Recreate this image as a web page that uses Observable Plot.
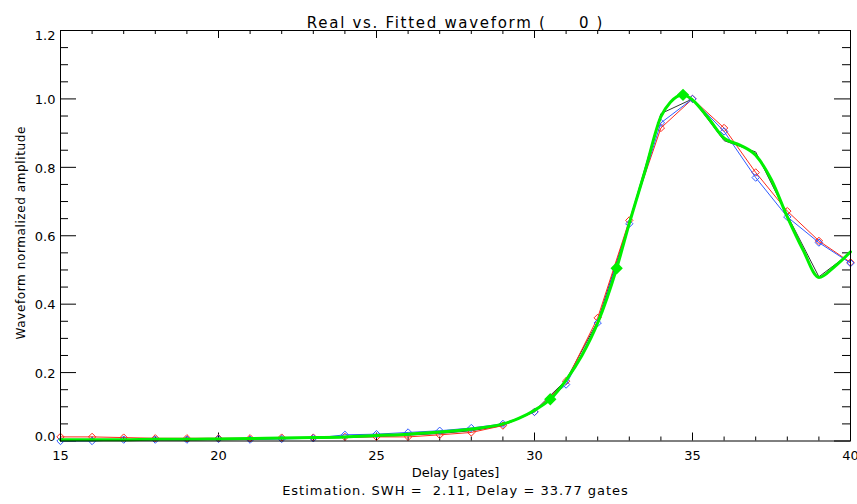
<!DOCTYPE html>
<html>
<head>
<meta charset="utf-8">
<script src="https://cdn.jsdelivr.net/npm/d3@7"></script>
<script src="https://cdn.jsdelivr.net/npm/@observablehq/plot@0.6"></script>
<style>
  html, body { margin: 0; padding: 0; background: #fff; }
</style>
</head>
<body>
<div id="chart"></div>
<script>
// ---- data ----
const gates = [15,16,17,18,19,20,21,22,23,24,25,26,27,28,29,30,31,32,33,34,35,36,37,38,39,40];
const redVals = [0.012,0.012,0.010,0.008,0.008,0.008,0.008,0.010,0.010,0.012,0.012,0.012,0.018,0.025,0.045,0.085,0.175,0.360,0.645,0.915,1.000,0.915,0.785,0.672,0.585,0.522];
const blueVals = [0.000,0.000,0.004,0.004,0.004,0.006,0.004,0.006,0.008,0.018,0.020,0.025,0.030,0.038,0.050,0.085,0.165,0.345,0.635,0.930,1.000,0.905,0.770,0.655,0.580,0.520];
const blackVals = [0.002,0.002,0.003,0.004,0.005,0.006,0.006,0.007,0.008,0.010,0.013,0.017,0.022,0.030,0.045,0.088,0.178,0.350,0.640,0.957,1.000,0.878,0.845,0.660,0.480,0.550];
const fitGates = [15,16,17,18,19,20,21,22,23,24,25,26,27,28,29,29.5,30,30.5,31,31.5,32,32.6,33,33.5,34,34.3,34.7,35,35.5,36,36.5,37,37.5,38,38.5,39,39.5,40];
const fitVals = [0.004,0.004,0.004,0.005,0.005,0.006,0.007,0.009,0.010,0.012,0.016,0.020,0.026,0.035,0.050,0.066,0.090,0.122,0.178,0.250,0.345,0.505,0.636,0.790,0.948,0.990,1.012,0.997,0.944,0.885,0.865,0.835,0.763,0.655,0.558,0.478,0.510,0.553];
const fitMarkGates = [30.5, 32.6, 34.7];
const fitMarkVals = [0.122, 0.505, 1.012];
const xMajor = [15,20,25,30,35,40];
const xMinor = d3.range(15, 41, 1);
const yMajor = [0,0.2,0.4,0.6,0.8,1.0,1.2];
const yMinor = d3.range(0, 1.2001, 0.05);
const titleText = "Real vs. Fitted waveform (\u00a0\u00a0\u00a0\u00a0\u00a00 )";
const xLabelText = "Delay [gates]";
const yLabelText = "Waveform normalized amplitude";
const captionText = "Estimation. SWH =\u00a0\u00a02.11, Delay = 33.77 gates";

// ---- tables ----
const red = gates.map((g, i) => ({g, v: redVals[i]}));
const blue = gates.map((g, i) => ({g, v: blueVals[i]}));
const black = gates.map((g, i) => ({g, v: blackVals[i]}));
const fit = fitGates.map((g, i) => ({g, v: fitVals[i]}));
const fitMarks = fitMarkGates.map((g, i) => ({g, v: fitMarkVals[i]}));

// ---- layout ----
const W = 857, H = 504;
const mL = 60, mR = 7, mT = 30, mB = 63.5;
const xSpan = 25, ySpan = 1.2;
const pxX = xSpan / (W - mL - mR);   // data units per px (x)
const pxY = ySpan / (H - mT - mB);   // data units per px (y)
const xMajLen = 8, xMinLen = 4, yMajLen = 16, yMinLen = 8;
const isXMajor = d => xMajor.includes(d);
const isYMajor = d => yMajor.some(m => Math.abs(m - d) < 1e-6);
const fmt = d => d.toFixed(1);

const font = "'DejaVu Sans', sans-serif";

const chart = Plot.plot({
  width: W, height: H,
  marginLeft: mL, marginRight: mR, marginTop: mT, marginBottom: mB,
  style: {fontFamily: font, fontSize: "13px", background: "white", color: "black"},
  x: {domain: [15, 40], ticks: xMajor, tickSize: 0, tickPadding: 10, tickFormat: d => String(d), label: null},
  y: {domain: [0, 1.2], axis: null},
  marks: [
    // inward ticks: bottom & top
    Plot.ruleX(xMinor, {x: d => d, y1: 0, y2: d => (isXMajor(d) ? xMajLen : xMinLen) * pxY, stroke: "black", strokeWidth: 1}),
    Plot.ruleX(xMinor, {x: d => d, y1: 1.2, y2: d => 1.2 - (isXMajor(d) ? xMajLen : xMinLen) * pxY, stroke: "black", strokeWidth: 1}),
    // inward ticks: left & right
    Plot.ruleY(yMinor, {y: d => d, x1: 15, x2: d => 15 + (isYMajor(d) ? yMajLen : yMinLen) * pxX, stroke: "black", strokeWidth: 1}),
    Plot.ruleY(yMinor, {y: d => d, x1: 40, x2: d => 40 - (isYMajor(d) ? yMajLen : yMinLen) * pxX, stroke: "black", strokeWidth: 1}),
    // y tick labels (ends nudged inside as in the reference)
    Plot.text(yMajor.filter(d => d > 0 && d < 1.2), {x: 15, y: d => d, text: fmt, textAnchor: "end", dx: -5, dy: 1, fill: "black", fontSize: 13}),
    Plot.text([1.2], {x: 15, y: d => d, text: fmt, textAnchor: "end", dx: -5, dy: 5, fill: "black", fontSize: 13}),
    Plot.text([0], {x: 15, y: d => d, text: fmt, textAnchor: "end", dx: -5, dy: -4, fill: "black", fontSize: 13}),
    // series
    Plot.line(black, {x: "g", y: "v", stroke: "#333333", strokeWidth: 1}),
    Plot.line(red, {x: "g", y: "v", stroke: "#ff2a1a", strokeWidth: 1}),
    Plot.dot(red, {x: "g", y: "v", symbol: "diamond2", r: 3.3, stroke: "#ff2a1a", fill: "none", strokeWidth: 1}),
    Plot.line(blue, {x: "g", y: "v", stroke: "#2f5bff", strokeWidth: 1}),
    Plot.dot(blue, {x: "g", y: "v", symbol: "diamond2", r: 3.3, stroke: "#2f5bff", fill: "none", strokeWidth: 1}),
    Plot.line(fit, {x: "g", y: "v", stroke: "#00f000", strokeWidth: 3, curve: "monotone-x"}),
    Plot.dot(fitMarks, {x: "g", y: "v", symbol: "diamond2", r: 4.6, fill: "#00f000", stroke: "#00f000"}),
    Plot.frame({stroke: "black", strokeWidth: 1}),
    // texts
    Plot.text([titleText], {frameAnchor: "top", dy: -13, fontSize: 15, fill: "black", style: "letter-spacing:1.7px"}),
    Plot.text([xLabelText], {frameAnchor: "bottom", dy: 36, fontSize: 13, fill: "black"}),
    Plot.text([captionText], {frameAnchor: "bottom", dy: 54, fontSize: 13, fill: "black"}),
    Plot.text([yLabelText], {frameAnchor: "left", textAnchor: "middle", rotate: -90, dx: -39, dy: -3, fontSize: 12, fill: "black"})
  ]
});
// letter spacing for wide IDL-like lettering
d3.select(chart).selectAll("text").filter(function() { return this.textContent === titleText; }).style("letter-spacing", "1.7px");
d3.select(chart).selectAll("text").filter(function() { return this.textContent === captionText; }).style("letter-spacing", "1px");
d3.select(chart).selectAll("text").filter(function() { return this.textContent === yLabelText; }).style("letter-spacing", "0.6px");
document.getElementById("chart").appendChild(chart);
</script>
</body>
</html>
